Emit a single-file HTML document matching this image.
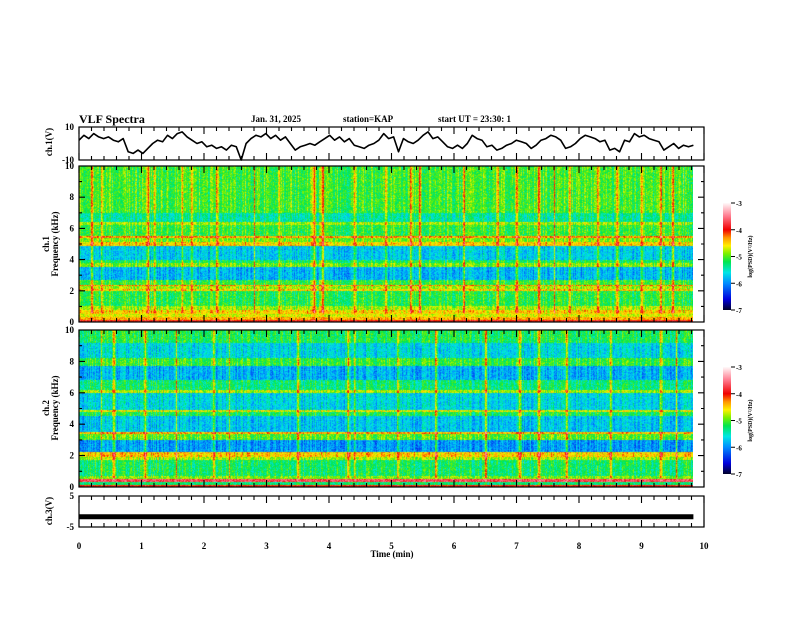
<!DOCTYPE html>
<html><head><meta charset="utf-8"><style>
body{margin:0;background:#fff;}
svg text{font-family:"Liberation Serif",serif;font-weight:bold;fill:#000;}
</style></head><body>
<svg id="chart" width="792" height="612" xmlns="http://www.w3.org/2000/svg">
<g id="spec1"></g>
<g id="spec2"></g>
<g id="marks"></g>
<g id="axes"></g>
<text x="79" y="123" font-size="12">VLF Spectra</text>
<text x="251" y="122" font-size="9">Jan. 31, 2025</text>
<text x="343" y="122" font-size="9">station=KAP</text>
<text x="438" y="122" font-size="9">start UT =  23:30: 1</text>
<text x="392" y="557" font-size="9" text-anchor="middle">Time (min)</text>
<text transform="translate(52,142) rotate(-90)" font-size="9" text-anchor="middle">ch.1(V)</text>
<text transform="translate(49,244) rotate(-90)" font-size="9" text-anchor="middle">ch.1</text>
<text transform="translate(58,244) rotate(-90)" font-size="9" text-anchor="middle">Frequency (kHz)</text>
<text transform="translate(49,408) rotate(-90)" font-size="9" text-anchor="middle">ch.2</text>
<text transform="translate(58,408) rotate(-90)" font-size="9" text-anchor="middle">Frequency (kHz)</text>
<text transform="translate(52,511) rotate(-90)" font-size="9" text-anchor="middle">ch.3(V)</text>
</svg>
<canvas id="cv" width="614" height="157" style="display:none"></canvas>
<script>
const timeTicks=[0,1,2,3,4,5,6,7,8,9,10];
const freqTicks=[0,2,4,6,8,10];
const cbTicks=[-3,-4,-5,-6,-7];
const ch1Volts=[2,5,3,6,4,3,4,2,1,3,-5,-6,-4,-6,-3,0,2,1,5,3,6,7,4,2,0,1,-2,-1,-3,-2,-4,-1,-2,-10,0,3,5,4,6,3,5,2,4,0,-4,-2,-1,0,-1,1,3,5,2,4,1,3,-1,-2,-3,-1,0,2,6,3,4,-5,3,1,0,2,5,7,3,4,1,-2,-3,-1,-3,0,5,3,2,-2,-1,-4,-3,-1,0,2,1,0,-3,-1,2,3,5,4,2,-3,-2,0,3,5,4,3,1,2,-4,-3,-5,2,1,6,4,5,3,2,1,-4,-2,0,-3,-1,-2,-1];
const ch3Times=[0,9.83];
const ch3Volts=[-1.7,-1.7];
const ch1BandLo=[0,0.15,0.3,0.5,0.8,1.0,2.0,2.1,2.3,2.4,2.7,3.5,3.8,4.0,4.9,5.1,5.4,5.5,6.2,6.4,7.0];
const ch1BandLevel=[-3.9,-4.4,-4.7,-4.5,-4.8,-5.15,-4.5,-4.8,-4.3,-5.1,-5.8,-4.9,-5.2,-5.7,-4.5,-4.9,-4.3,-5.1,-4.8,-5.4,-5.05];
const ch2BandLo=[0,0.1,0.3,0.5,0.7,1.7,1.9,2.2,3.0,3.4,3.5,4.5,4.8,4.9,6.0,6.2,6.8,7.7,8.2,9.2];
const ch2BandLevel=[-4.0,-5.3,-3.7,-4.9,-5.25,-4.8,-4.5,-5.95,-5.0,-4.4,-5.75,-5.2,-4.7,-5.65,-4.8,-5.3,-5.85,-5.1,-5.65,-5.2];
const ch1Spikes=[0.2,0.35,1.1,1.2,1.65,1.8,2.2,2.8,3.2,3.75,3.9,4.4,4.9,5.3,5.45,6.15,6.7,7.0,7.35,7.6,7.85,8.3,8.6,9.0,9.3,9.5];
const ch2Spikes=[0.35,0.55,1.05,1.55,2.15,2.4,3.5,4.3,4.4,5.1,5.7,6.5,7.05,7.35,7.8,8.5,9.3,9.55];

const NS="http://www.w3.org/2000/svg";
const X0=79,X1=704,TMAX=10,TDATA=9.83;
const xs=t=>X0+(X1-X0)*t/TMAX;
const panels={p1:{top:127,bot:160,min:-10,max:10},s1:{top:166,bot:322,min:0,max:10},s2:{top:330,bot:487,min:0,max:10},p3:{top:496,bot:527,min:-5,max:5}};
const ys=(p,v)=>p.bot-(p.bot-p.top)*(v-p.min)/(p.max-p.min);
function mk(tag,attrs,parent){const e=document.createElementNS(NS,tag);for(const k in attrs)e.setAttribute(k,attrs[k]);parent.appendChild(e);return e;}
const axes=document.getElementById('axes'),marks=document.getElementById('marks');

function cmap(v){
  const stops=[[-7,[0,0,40]],[-6.6,[0,0,220]],[-6.0,[0,140,255]],[-5.6,[0,230,230]],[-5.2,[0,230,80]],[-4.9,[120,240,0]],[-4.6,[255,240,0]],[-4.3,[255,150,0]],[-4.0,[240,0,0]],[-3.5,[255,120,140]],[-3,[255,250,250]]];
  if(v<=stops[0][0])return stops[0][1];
  for(let i=1;i<stops.length;i++){if(v<=stops[i][0]){const a=stops[i-1],b=stops[i],f=(v-a[0])/(b[0]-a[0]);return a[1].map((c,j)=>Math.round(c+(b[1][j]-c)*f));}}
  return stops[stops.length-1][1];
}
function hash(a,b){let h=(a*374761393+b*668265263)>>>0;h=((h^(h>>>13))*1274126177)>>>0;return ((h^(h>>>16))>>>0)/4294967296;}
function bandLevel(lo,lev,f){let v=lev[0];for(let i=0;i<lo.length;i++)if(f>=lo[i])v=lev[i];return v;}
function drawSpec(gid,p,lo,lev,spikes,seed){
  const cv=document.getElementById('cv'),ctx=cv.getContext('2d');
  const W=Math.round(xs(TDATA)-X0),H=Math.round(p.bot-p.top);
  cv.width=W;cv.height=H;
  const img=ctx.createImageData(W,H);
  const colOff=[];
  for(let x=0;x<W;x++){let o=(hash(x,seed)-0.5)*0.5;for(const s of spikes){const d=Math.abs(xs(s)-X0-x);if(d<0.8)o+=0.8;else if(d<1.8)o+=0.2;}colOff.push(o);}
  for(let y=0;y<H;y++){const f=p.max-(y+0.5)/H*(p.max-p.min);const b=bandLevel(lo,lev,f);
    for(let x=0;x<W;x++){let v=b+colOff[x]*(f<0.6?0.2:1)+(hash(x*7+y,seed+y)-0.5)*0.5;const c=cmap(v);const i=(y*W+x)*4;img.data[i]=c[0];img.data[i+1]=c[1];img.data[i+2]=c[2];img.data[i+3]=255;}}
  ctx.putImageData(img,0,0);
  const im=mk('image',{x:X0,y:p.top,width:W,height:H,preserveAspectRatio:'none',href:cv.toDataURL()},document.getElementById(gid));
  
  
}
drawSpec('spec1',panels.s1,ch1BandLo,ch1BandLevel,ch1Spikes,11);
drawSpec('spec2',panels.s2,ch2BandLo,ch2BandLevel,ch2Spikes,29);

function line(times,vals,p,w,name){
  const pts=times.map((t,i)=>xs(t).toFixed(1)+','+ys(p,vals[i]).toFixed(1)).join(' ');
  const pl=mk('polyline',{points:pts,fill:'none',stroke:'#000','stroke-width':w,'stroke-linejoin':'round'},marks);
  
  
}
const ch1Times=ch1Volts.map((v,i)=>i*TDATA/(ch1Volts.length-1));
line(ch1Times,ch1Volts,panels.p1,1.6,'ch1-waveform');
line(ch3Times,ch3Volts,panels.p3,5,'ch3-waveform');

for(const k in panels){const p=panels[k];
  const r=mk('rect',{x:X0,y:p.top,width:X1-X0,height:p.bot-p.top,fill:'none',stroke:'#000','stroke-width':1.2},axes);
  
  
  let d='';
  for(let i=0;i<=50;i++){const x=xs(i*0.2).toFixed(1),L=(i%5===0)?7:4;
    d+='M'+x+' '+p.bot+'v-'+L+'M'+x+' '+p.top+'v'+L;}
  if(k==='s1'||k==='s2'){for(let f=0;f<=10;f++){const y=ys(p,f).toFixed(1),L=f%2===0?6:3;d+='M'+X0+' '+y+'h'+L+'M'+X1+' '+y+'h-'+L;}}
  const tk=mk('path',{d:d,stroke:'#000','stroke-width':1.1,fill:'none'},axes);
  
  
}
for(const k of ['s1','s2']){const p=panels[k];
  freqTicks.forEach(f=>{const t=mk('text',{x:X0-5,y:ys(p,f)+3,'font-size':9,'text-anchor':'end'},axes);t.textContent=f;
    
    });
}
[['p1',[10,-10]],['p3',[5,-5]]].forEach(([k,vals])=>{const p=panels[k];vals.forEach(v=>{const t=mk('text',{x:X0-5,y:ys(p,v)+3,'font-size':9,'text-anchor':'end'},axes);t.textContent=v;
  
  });});
timeTicks.forEach(v=>{const t=mk('text',{x:xs(v),y:549,'font-size':9,'text-anchor':'middle'},axes);t.textContent=v;
  
  });

[[203,310,'ch1'],[367,474,'ch2']].forEach(([t0,t1,nm])=>{
  const id='cb'+nm;const defs=mk('defs',{},axes);const g=mk('linearGradient',{id:id,x1:0,y1:1,x2:0,y2:0},defs);
  for(let v=-7;v<=-2.95;v+=0.1){const c=cmap(v);mk('stop',{offset:Math.min(1,(v+7)/4).toFixed(3),'stop-color':'rgb('+c.join(',')+')'},g);}
  const r=mk('rect',{x:723,y:t0,width:8,height:t1-t0,fill:'url(#'+id+')'},axes);
  
  
  cbTicks.forEach(v=>{const y=t1-(t1-t0)*(v+7)/4;mk('line',{x1:731,x2:735,y1:y,y2:y,stroke:'#000'},axes);
    const tx=mk('text',{x:736,y:y+3,'font-size':7},axes);tx.textContent=v;
    
    });
  const lb=mk('text',{transform:'translate(752,'+((t0+t1)/2)+') rotate(-90)','font-size':6,'text-anchor':'middle'},axes);
  lb.textContent='log(PSD)(V²/Hz)';
  
  
});
</script>
</body></html>
